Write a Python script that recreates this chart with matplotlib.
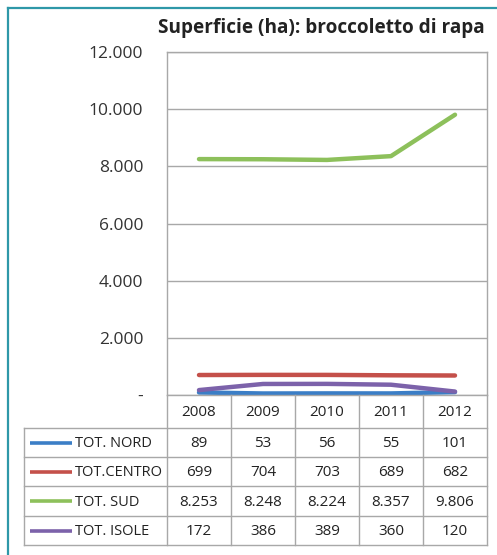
import matplotlib
matplotlib.use("Agg")
import matplotlib.pyplot as plt
from matplotlib.lines import Line2D

plt.rcParams['font.family'] = ['Open Sans', 'DejaVu Sans']

years = ["2008", "2009", "2010", "2011", "2012"]
series_names = ["TOT. NORD", "TOT.CENTRO", "TOT. SUD", "TOT. ISOLE"]
nord = [89, 53, 56, 55, 101]
centro = [699, 704, 703, 689, 682]
sud = [8253, 8248, 8224, 8357, 9806]
isole = [172, 386, 389, 360, 120]
series_values = [nord, centro, sud, isole]
colors = ["#3B7EC6", "#C4504A", "#8DC05B", "#7C62AA"]
yticks = [0, 2000, 4000, 6000, 8000, 10000, 12000]
ytick_labels = ["-", "2.000", "4.000", "6.000", "8.000", "10.000", "12.000"]


def fmt(v):
    return f"{v:,}".replace(",", ".")


W, H = 497, 555
fig = plt.figure(figsize=(W / 100, H / 100), dpi=100)

# teal frame
fig.add_artist(Line2D([8 / W, 8 / W], [0, 1 - 8 / H], transform=fig.transFigure,
                      color="#2E98A8", lw=1.6))
fig.add_artist(Line2D([8 / W, 1], [1 - 8 / H, 1 - 8 / H], transform=fig.transFigure,
                      color="#2E98A8", lw=1.6))

grid_c = "#A8A8A8"
ax_l, ax_r, ax_t, ax_b = 167, 487, 52, 395
ax = fig.add_axes([ax_l / W, 1 - ax_b / H, (ax_r - ax_l) / W, (ax_b - ax_t) / H])
x = list(range(len(years)))
for vals, c in zip(series_values, colors):
    ax.plot(x, vals, color=c, lw=3.2, solid_capstyle="round")
ax.set_xlim(-0.5, len(years) - 0.5)
ax.set_ylim(0, 12000)
ax.set_yticks(yticks)
ax.set_yticklabels(ytick_labels, fontsize=12.5, color="#333333")
ax.set_xticks([])
ax.tick_params(axis="y", length=0, pad=17)
ax.grid(axis="y", color=grid_c, lw=1)
for s in ax.spines.values():
    s.set_color(grid_c)
    s.set_linewidth(1)
ax.set_axisbelow(True)

fig.text(485 / W, 1 - 28 / H, "Superficie (ha): broccoletto di rapa", ha="right", va="center",
         fontsize=13.7, fontweight="bold", color="#222222")

# table
t_l, t_r, t_t, t_b = 24, 487, 395, 545
tax = fig.add_axes([t_l / W, 1 - t_b / H, (t_r - t_l) / W, (t_b - t_t) / H])
lab_w = (ax_l - t_l) / ((ax_r - ax_l) / len(years))
x0 = -0.5 - lab_w
tax.set_xlim(x0, len(years) - 0.5)
tax.set_ylim(t_b - t_t, 0)
tax.axis("off")
row_edges = [0, 33, 62, 91, 121, 150]
row_edges = [r * (t_b - t_t) / 150 for r in row_edges]
lk = dict(color=grid_c, lw=1, clip_on=False)
for i in range(len(years) + 1):
    tax.plot([i - 0.5, i - 0.5], [row_edges[0], row_edges[-1]], **lk)
tax.plot([x0, x0], [row_edges[1], row_edges[-1]], **lk)
for r in row_edges[1:]:
    tax.plot([x0, len(years) - 0.5], [r, r], **lk)
for i, yr in enumerate(years):
    tax.text(i, (row_edges[0] + row_edges[1]) / 2 + 1, yr, ha="center", va="center",
             fontsize=11, color="#222222")
for j, (name, vals, c) in enumerate(zip(series_names, series_values, colors)):
    yc = (row_edges[j + 1] + row_edges[j + 2]) / 2
    tax.plot([x0 + 0.1, x0 + 0.75], [yc, yc], color=c, lw=2.6, solid_capstyle="butt")
    tax.text(x0 + 0.79, yc + 1, name, ha="left", va="center", fontsize=10.5, color="#222222")
    for i, v in enumerate(vals):
        tax.text(i, yc + 1, fmt(v), ha="center", va="center", fontsize=11, color="#222222")

fig.savefig("out.png", dpi=100)
